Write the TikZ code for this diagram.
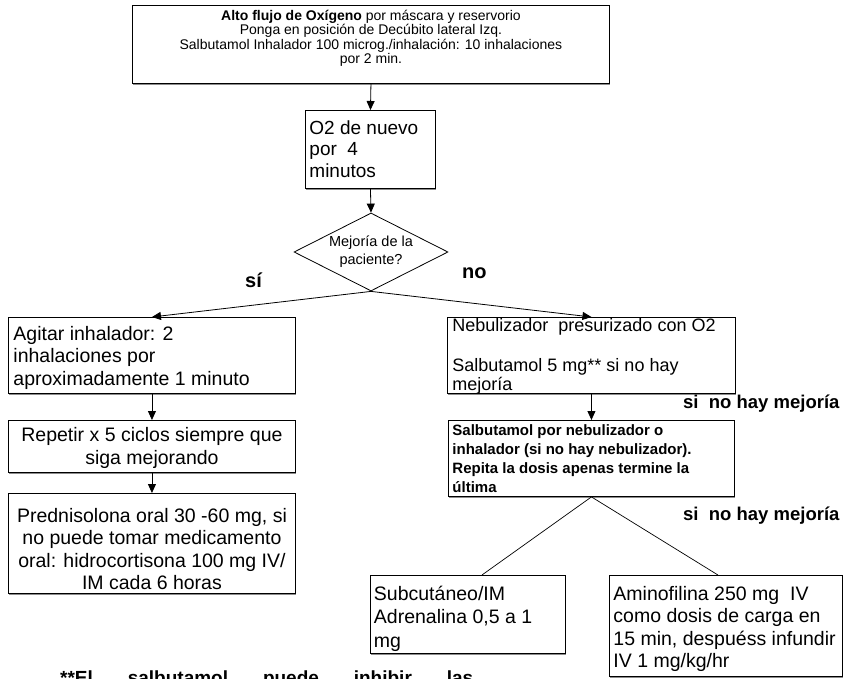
\documentclass[tikz,border=0pt]{standalone}
\usepackage{fontspec}
\setmainfont{Liberation Sans}
\usetikzlibrary{arrows.meta,shapes.geometric,shadows}

% font size / baseline skip in pt
\newcommand{\fs}[2]{\fontsize{#1pt}{#2pt}\selectfont}
% fixed-size text block: width, height, first baseline, format, text
\newcommand{\cellbox}[5]{\parbox[c][#2][t]{#1}{#4\rule{0pt}{#3}#5}}
\newcommand{\lft}[1]{\raggedright\leftskip=#1\relax}

\begin{document}
\begin{tikzpicture}[x=1pt,y=-1pt,
  box/.style={draw, line width=0.9pt, fill=white, inner sep=0pt, anchor=north west,
    drop shadow={shadow xshift=1pt, shadow yshift=-1.2pt, fill=black!45, opacity=1}},
  flow/.style={draw, line width=0.8pt, -{Triangle[length=9pt,width=8pt]}},
  link/.style={draw, line width=0.7pt},
  decision/.style={draw, line width=0.8pt, fill=white, shape=diamond, aspect=1.97,
    inner sep=0pt, minimum width=154pt, minimum height=78pt, align=center,
    font=\fs{14.5}{18}},
  tag/.style={anchor=base west, inner sep=0pt, font=\bfseries\fs{18.5}{20}},
  answer/.style={anchor=base west, inner sep=0pt, font=\bfseries\fs{20}{22}}
]
\clip (0,0) rectangle (846,679);
\useasboundingbox (0,0) rectangle (846,679);

% ---- main column ----
\node[box] (top) at (132,5) {\cellbox{477pt}{78pt}{15pt}{\centering\fs{14}{14.3}}{%
  \textbf{Alto flujo de Oxígeno} por máscara y reservorio\\
  Ponga en posición de Decúbito lateral Izq.\\
  Salbutamol Inhalador 100 microg./inhalación: 10 inhalaciones\\
  por 2 min.}};

\node[box] (again) at (305,110) {\cellbox{130pt}{78pt}{23.7pt}{\lft{4pt}\fs{19}{21.5}}{%
  O2 de nuevo\\ por\ \ 4\\ minutos}};

\node[decision] (ask) at (371,252) {Mejoría de la\\ paciente?};

\node[answer] (yes) at (245,287) {sí};
\node[answer] (no) at (462,278) {no};

% ---- improvement branch ----
\node[box] (shake) at (8,317) {\cellbox{287pt}{76pt}{23pt}{\lft{5pt}\fs{19.5}{22.5}}{%
  Agitar inhalador: 2\\ inhalaciones por\\ aproximadamente 1 minuto}};

\node[box] (repeat) at (8,420) {\cellbox{287pt}{52pt}{21pt}{\centering\fs{19.5}{23}}{%
  Repetir x 5 ciclos siempre que\\ siga mejorando}};

\node[box] (steroid) at (8,493) {\cellbox{287pt}{100pt}{29pt}{\centering\fs{19.5}{22.5}}{%
  Prednisolona oral 30 -60 mg, si\\ no puede tomar medicamento\\
  oral: hidrocortisona 100 mg IV/\\ IM cada 6 horas}};

% ---- no-improvement branch ----
\node[box] (neb) at (447,317) {\cellbox{288pt}{76pt}{14.3pt}{\lft{5pt}\fs{18}{19.5}}{%
  Nebulizador\ \ presurizado con O2\\[20pt]
  Salbutamol 5 mg** si no hay\\ mejoría}};

\node[tag] (lab1) at (683,408) {si\ \ no hay mejoría};

\node[box] (salb) at (448,420) {\cellbox{286pt}{76pt}{15.3pt}{\lft{4pt}\bfseries\fs{15}{19}}{%
  Salbutamol por nebulizador o\\ inhalador (si no hay nebulizador).\\
  Repita la dosis apenas termine la\\ última}};

\node[tag] (lab2) at (683,520) {si\ \ no hay mejoría};

\node[box] (adren) at (370,575) {\cellbox{195pt}{78pt}{25pt}{\lft{3.5pt}\fs{19.5}{23.5}}{%
  Subcutáneo/IM\\ Adrenalina 0,5 a 1\\ mg}};

\node[box] (amino) at (609,575) {\cellbox{233pt}{101pt}{25pt}{\lft{4pt}\fs{19.5}{22.5}}{%
  Aminofilina 250 mg\ \ IV\\ como dosis de carga en\\
  15 min, despuéss infundir\\ IV 1 mg/kg/hr}};

% ---- footnote (runs off the lower edge) ----
\node[anchor=base west, inner sep=0pt, font=\bfseries\fs{19}{22}] (note) at (60,684)
  {\makebox[413pt][s]{**El salbutamol puede inhibir las}};

% ---- connectors ----
\path[flow] (top.south) -- (again.north);
\path[flow] (again.south) -- (ask.north);
\path[flow] (ask.south) -- (shake.north);
\path[flow] (ask.south) -- (neb.north);
\path[flow] (shake.south) -- (repeat.north);
\path[flow] (repeat.south) -- (steroid.north);
\path[flow] (neb.south) -- (salb.north);
\path[link] (salb.south) -- ([xshift=14pt]adren.north);
\path[link] (salb.south) -- ([xshift=-8pt]amino.north);
\end{tikzpicture}
\end{document}
